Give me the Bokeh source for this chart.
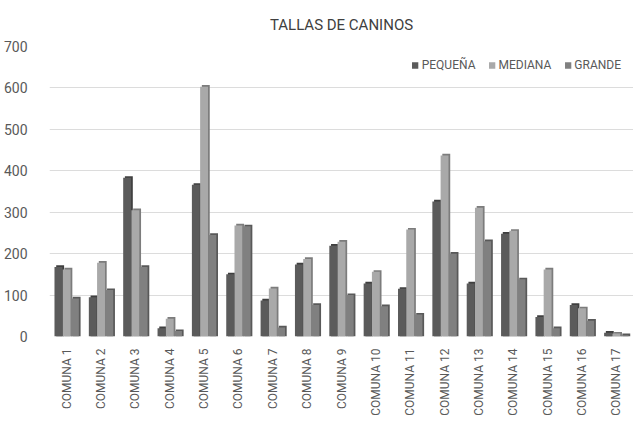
from bokeh.plotting import figure
from bokeh.models import FactorRange, Legend, LegendItem, ColumnDataSource, Range1d
from bokeh.transform import dodge
from bokeh.embed import file_html
from bokeh.resources import INLINE
import math

comunas = [f"COMUNA {i}" for i in range(1, 18)]
pequena = [168, 95, 383, 20, 366, 150, 87, 174, 219, 128, 115, 326, 128, 248, 47, 76, 9]
mediana = [162, 178, 305, 43, 603, 268, 116, 187, 229, 156, 258, 437, 311, 255, 162, 68, 7]
grande = [92, 112, 168, 13, 245, 266, 22, 76, 100, 73, 53, 200, 230, 138, 20, 38, 3]
y_ticks = [0, 100, 200, 300, 400, 500, 600, 700]

FONT = "Roboto"

src = ColumnDataSource(dict(comuna=comunas, pequena=pequena, mediana=mediana, grande=grande,
                            pequena_d=[v + 4 for v in pequena],
                            mediana_d=[v + 4 for v in mediana],
                            grande_d=[v + 4 for v in grande]))

p = figure(frame_width=584, frame_height=290, x_range=FactorRange(*comunas), y_range=Range1d(0, 700),
           output_backend="svg", toolbar_location=None,
           min_border_left=4, min_border_right=0, min_border_top=8, min_border_bottom=0)

p.title.text = "TALLAS DE CANINOS"
p.title.align = "center"
p.title.text_font = FONT
p.title.text_font_size = "15px"
p.title.text_font_style = "normal"
p.title.text_color = "#404040"
p.title.standoff = 26

series = [("pequena", "PEQUEÑA", "#5b5b5b", "#3f3f3f", -0.24),
          ("mediana", "MEDIANA", "#a9a9a9", "#7c7c7c", 0.0),
          ("grande", "GRANDE", "#808080", "#595959", 0.24)]
items = []
for key, label, col, dark, off in series:
    p.vbar(x=dodge("comuna", off + 0.05, range=p.x_range), top=key + "_d", width=0.23,
           source=src, fill_color=dark, line_color=None)
    r = p.vbar(x=dodge("comuna", off, range=p.x_range), top=key, width=0.23,
               source=src, fill_color=col, line_color=None)
    items.append(LegendItem(label=label, renderers=[r]))

legend = Legend(items=items, orientation="horizontal", location="top_right",
                label_text_font=FONT, label_text_font_size="12px", label_text_color="#595959",
                label_height=12, glyph_width=8, glyph_height=8, spacing=12, label_standoff=3,
                border_line_color=None, background_fill_color="white", background_fill_alpha=1,
                padding=4, margin=12)
p.add_layout(legend)

p.yaxis.ticker = y_ticks
p.xaxis.major_label_orientation = math.pi / 2
for ax in (p.xaxis, p.yaxis):
    ax.axis_line_color = None
    ax.major_tick_line_color = None
    ax.minor_tick_line_color = None
    ax.major_tick_out = 0
    ax.major_tick_in = 0
    ax.minor_tick_out = 0
    ax.minor_tick_in = 0
    ax.major_label_text_font = FONT
    ax.major_label_text_color = "#595959"
p.xaxis.major_label_text_font_size = "12px"
p.yaxis.major_label_text_font_size = "14px"
p.yaxis.major_label_standoff = 22
p.xaxis.major_label_standoff = 12
p.xgrid.grid_line_color = None
p.ygrid.grid_line_color = "#dcdcdc"
p.outline_line_color = None
p.x_range.range_padding = 0
p.x_range.group_padding = 0

open("out.html", "w").write(file_html(p, INLINE))
